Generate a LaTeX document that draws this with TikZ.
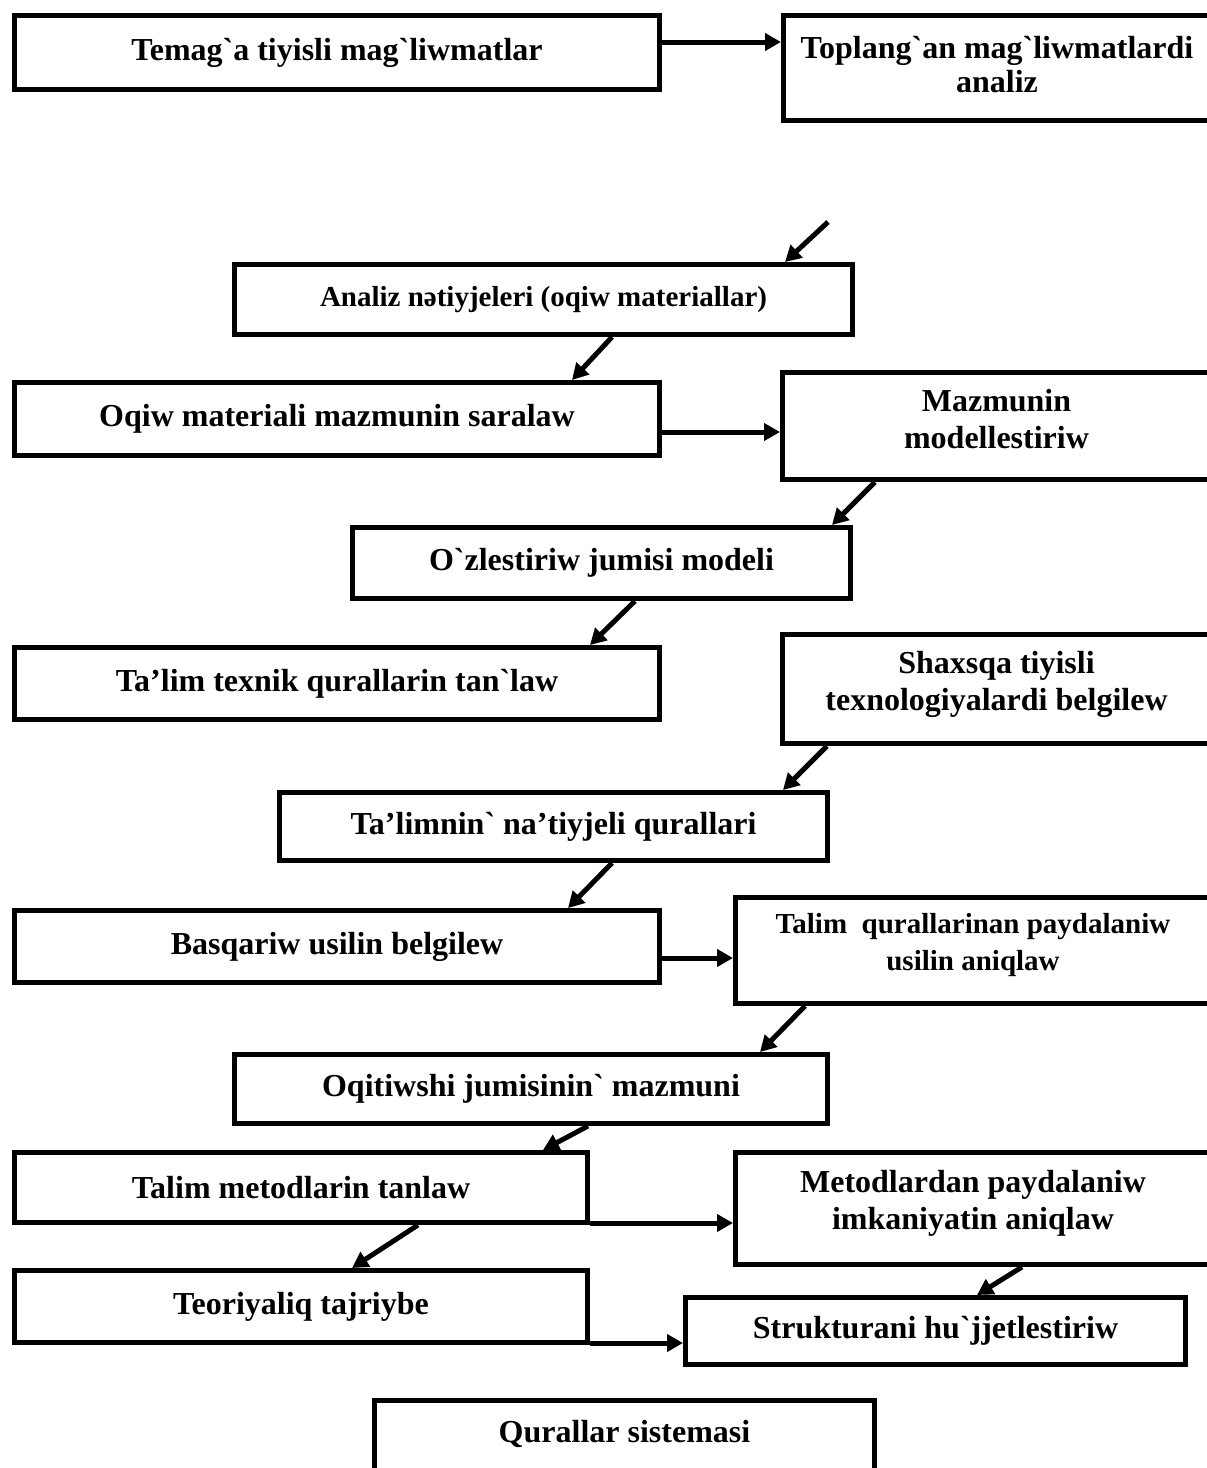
\documentclass[tikz,border=0pt]{standalone}
\usepackage{fontspec}
\setmainfont{Liberation Serif}[Ligatures=TeXOff]
\usetikzlibrary{arrows.meta,calc}
\begin{document}
\begin{tikzpicture}[x=1pt,y=-1pt,
  box/.style={draw,line width=5pt,inner sep=0pt,align=center,
    font=\fontsize{32}{37}\selectfont\bfseries},
  smallbox/.style={box,font=\fontsize{29}{37}\selectfont\bfseries},
  txt/.style={inner sep=0pt,align=center,font=\fontsize{32}{37}\selectfont\bfseries},
  smalltxt/.style={txt,font=\fontsize{29}{37}\selectfont\bfseries},
  arr/.style={line width=5pt,-{Triangle[length=16pt,width=17pt]}}]
\useasboundingbox (0,0) rectangle (1207,1468);
\fill[white] (0,0) rectangle (1207,1468);

\node[box,minimum width=645pt,minimum height=74pt] (b1) at (337,52.5) {Temag`a tiyisli mag`liwmatlar};
\node[box,minimum width=427pt,minimum height=105pt] (b2) at (997,68) {};
\node[txt,font=\fontsize{32}{34}\selectfont\bfseries] (b2t) at (997,65) {Toplang`an mag`liwmatlardi\\analiz};
\node[smallbox,minimum width=618pt,minimum height=70pt] (b3) at (543.5,299.5) {Analiz nətiyjeleri (oqiw materiallar)};
\node[box,minimum width=645pt,minimum height=73pt] (b4) at (337,419) {Oqiw materiali mazmunin saralaw};
\node[box,minimum width=428pt,minimum height=107pt] (b5) at (996.5,426) {};
\node[txt] (b5t) at (996.5,419) {Mazmunin\\modellestiriw};
\node[box,minimum width=498pt,minimum height=71pt] (b6) at (601.5,563) {O`zlestiriw jumisi modeli};
\node[box,minimum width=645pt,minimum height=72pt] (b7) at (337,683.5) {Ta’lim texnik qurallarin tan`law};
\node[box,minimum width=428pt,minimum height=109pt] (b8) at (996.5,689) {};
\node[txt] (b8t) at (996.5,684) {Shaxsqa tiyisli\\texnologiyalardi belgilew};
\node[box,minimum width=548pt,minimum height=68pt] (b9) at (553.5,826.5) {Ta’limnin` na’tiyjeli qurallari};
\node[box,minimum width=645pt,minimum height=72pt] (b10) at (337,946.5) {Basqariw usilin belgilew};
\node[box,minimum width=475pt,minimum height=106pt] (b11) at (973,950.5) {};
\node[smalltxt] (b11t) at (973,945.5) {Talim\ \ qurallarinan paydalaniw\\usilin aniqlaw};
\node[box,minimum width=593pt,minimum height=69pt] (b12) at (531,1089) {Oqitiwshi jumisinin` mazmuni};
\node[box,minimum width=573pt,minimum height=70pt] (b13) at (301,1187.5) {Talim metodlarin tanlaw};
\node[box,minimum width=475pt,minimum height=112pt] (b14) at (973,1208.5) {};
\node[txt] (b14t) at (973,1203.5) {Metodlardan paydalaniw\\imkaniyatin aniqlaw};
\node[box,minimum width=573pt,minimum height=72pt] (b15) at (301,1306.5) {Teoriyaliq tajriybe};
\node[box,minimum width=500pt,minimum height=67pt] (b16) at (935.5,1331) {Strukturani hu`jjetlestiriw};
\node[box,minimum width=500pt,minimum height=82pt] (b17) at (624.5,1441.5) {};
\node[txt] (b17t) at (624.5,1434) {Qurallar sistemasi};

% horizontal connectors
\coordinate (a1) at ($(b1.east)+(0,-10.5)$);
\draw[arr] (a1) -- (a1 -| b2.west);
\coordinate (a4) at ($(b4.east)+(0,13)$);
\draw[arr] (a4) -- (a4 -| b5.west);
\coordinate (a9) at ($(b10.east)+(0,11.5)$);
\draw[arr] (a9) -- (a9 -| b11.west);
\coordinate (a12) at ($(b13.south east)+(0,-2)$);
\draw[arr] (a12) -- (a12 -| b14.west);
\coordinate (a14) at ($(b15.south east)+(0,-2)$);
\draw[arr] (a14) -- (a14 -| b16.west);

% diagonal connectors
\coordinate (s0) at (828,222);
\draw[arr] (s0) -- ($(b3.north)+(241.5,0)$);
\draw[arr] ($(b3.south)+(68.5,0)$) -- ($(b4.north)+(235,0)$);
\draw[arr] ($(b5.south)+(-121.5,0)$) -- ($(b6.north)+(230.5,0)$);
\draw[arr] ($(b6.south)+(33.5,0)$) -- ($(b7.north)+(253,0)$);
\draw[arr] ($(b8.south)+(-169.5,0)$) -- ($(b9.north)+(229.5,0)$);
\draw[arr] ($(b9.south)+(58.5,0)$) -- ($(b10.north)+(231,0)$);
\draw[arr] ($(b11.south)+(-168,0)$) -- ($(b12.north)+(229,0)$);
\draw[arr] ($(b12.south)+(57,0)$) -- ($(b13.north)+(242,0)$);
\draw[arr] ($(b13.south)+(117,0)$) -- ($(b15.north)+(51,0)$);
\draw[arr] ($(b14.south)+(49,0)$) -- ($(b16.north)+(41.5,0)$);
\end{tikzpicture}
\end{document}
